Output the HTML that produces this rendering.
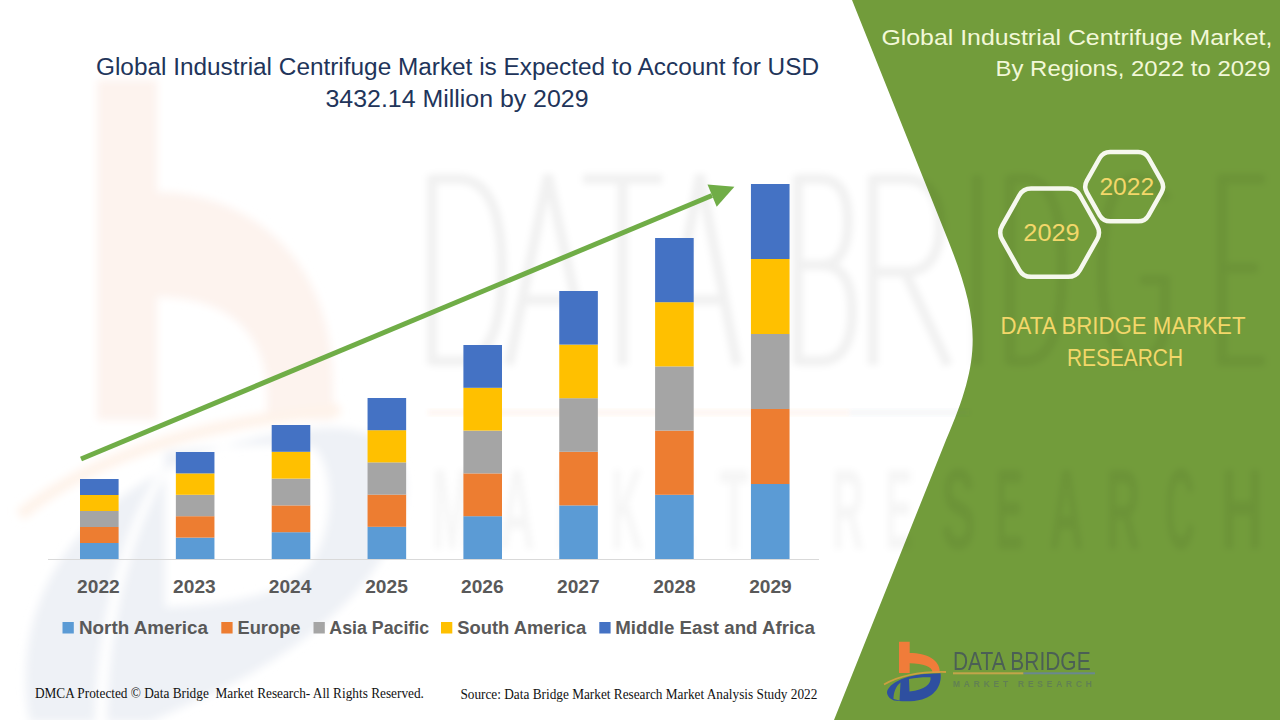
<!DOCTYPE html>
<html><head><meta charset="utf-8">
<style>
html,body{margin:0;padding:0;background:#fff;}
body{width:1280px;height:720px;overflow:hidden;}
svg{display:block;}
text{font-family:"Liberation Sans",sans-serif;}
.serif{font-family:"Liberation Serif",serif;}
</style></head>
<body>
<svg width="1280" height="720" viewBox="0 0 1280 720">
<rect width="1280" height="720" fill="#ffffff"/>


<!-- watermark -->
<defs>
<filter id="bl2" x="-10%" y="-10%" width="120%" height="120%"><feGaussianBlur stdDeviation="2"/></filter>
<filter id="bl3" x="-10%" y="-10%" width="120%" height="120%"><feGaussianBlur stdDeviation="3"/></filter>
<filter id="bl4" x="-10%" y="-10%" width="120%" height="120%"><feGaussianBlur stdDeviation="4"/></filter>
</defs>
<g filter="url(#bl4)">
<path d="M97,80 H157 V192 C240,192 333,250 333,385 V420 H267 V395 C267,335 230,297 157,297 V420 H97 Z" fill="#FDF3EE"/>
<path d="M20,515 C100,450 220,420 340,410" stroke="#FEF3EA" stroke-width="12" fill="none"/>
<path d="M26,690 C20,560 120,455 300,430 C390,418 420,460 400,520 C380,580 320,640 220,690 L150,722 L30,722 C28,712 26,700 26,690 Z M165,452 C220,446 290,442 315,448 C335,470 335,530 310,565 C285,595 230,605 165,607 Z M95,722 C96,640 115,540 160,470 L166,474 C125,545 108,640 107,722 Z" fill="#EEF1F6" fill-rule="evenodd"/>
</g>

<!-- green panel -->
<path d="M852,0 L948,240 C981,323 981.5,358 946,440 L834,720 L1280,720 L1280,0 Z" fill="#729C3B"/>

<g filter="url(#bl3)" fill="none" stroke="#000" stroke-opacity="0.055" stroke-width="10">
<path d="M432,175 V365 M432,179 H458 C490,179 502,215 502,270 C502,325 490,361 458,361 H432"/>
<path d="M509,365 L548,175 L590,365 M522,300 H576"/>
<path d="M583,179 H662 M622.5,179 V365"/>
<path d="M664,365 L700,175 L737,365 M677,300 H724"/>
<path d="M798,175 V365 M798,179 H820 C840,179 848,195 848,222 C848,250 838,265 820,265 H798 M820,265 C845,265 852,285 852,312 C852,345 840,361 820,361 H798"/>
<path d="M873,175 V365 M873,179 H905 C930,179 940,200 940,225 C940,255 928,272 905,272 H873 M905,272 L948,365"/>
<path d="M977,175 V365"/>
<path d="M1010,175 V365 M1010,179 H1025 C1052,179 1062,215 1062,270 C1062,325 1052,361 1025,361 H1010"/>
<path d="M1168,200 C1155,182 1145,179 1135,179 C1112,179 1102,220 1102,270 C1102,325 1115,361 1135,361 C1150,361 1165,350 1165,320 V280 H1140"/>
<path d="M1265,179 H1222 V361 H1265 M1222,268 H1258"/>
</g>
<g filter="url(#bl2)">
<rect x="428" y="409.5" width="421" height="6" fill="#F07A3C" opacity="0.07"/>
<rect x="849" y="409.5" width="120" height="6" fill="#445577" opacity="0.05"/>
</g>
<g filter="url(#bl3)" fill="#000" fill-opacity="0.035" font-family="Liberation Sans" font-weight="bold" font-size="115" text-anchor="middle">
<text x="452" y="549" textLength="40" lengthAdjust="spacingAndGlyphs">M</text>
<text x="517" y="549" textLength="36" lengthAdjust="spacingAndGlyphs">A</text>
<text x="572" y="549" textLength="32" lengthAdjust="spacingAndGlyphs">R</text>
<text x="627" y="549" textLength="32" lengthAdjust="spacingAndGlyphs">K</text>
<text x="680" y="549" textLength="28" lengthAdjust="spacingAndGlyphs">E</text>
<text x="734" y="549" textLength="30" lengthAdjust="spacingAndGlyphs">T</text>
<text x="848" y="549" textLength="32" lengthAdjust="spacingAndGlyphs">R</text>
<text x="899" y="549" textLength="28" lengthAdjust="spacingAndGlyphs">E</text>
</g>
<g filter="url(#bl3)" fill="#000" fill-opacity="0.055" font-family="Liberation Sans" font-weight="bold" font-size="115" text-anchor="middle">
<text x="958.5" y="549" textLength="34" lengthAdjust="spacingAndGlyphs">S</text>
<text x="1009.5" y="549" textLength="28" lengthAdjust="spacingAndGlyphs">E</text>
<text x="1066.5" y="549" textLength="34" lengthAdjust="spacingAndGlyphs">A</text>
<text x="1123" y="549" textLength="34" lengthAdjust="spacingAndGlyphs">R</text>
<text x="1180" y="549" textLength="30" lengthAdjust="spacingAndGlyphs">C</text>
<text x="1242" y="549" textLength="42" lengthAdjust="spacingAndGlyphs">H</text>
</g>

<!-- title -->
<g fill="#21345A" font-size="23">
<text x="96" y="74.5" textLength="723" lengthAdjust="spacingAndGlyphs">Global Industrial Centrifuge Market is Expected to Account for USD</text>
<text x="325.5" y="106.5" textLength="263" lengthAdjust="spacingAndGlyphs">3432.14 Million by 2029</text>
</g>

<!-- axis -->
<rect x="48" y="559" width="771" height="1" fill="#D9D9D9"/>

<!-- bars -->
<g id="bars">
<rect x="80.00" y="543.00" width="38.6" height="16.00" fill="#5B9BD5"/>
<rect x="80.00" y="527.00" width="38.6" height="16.00" fill="#ED7D31"/>
<rect x="80.00" y="511.00" width="38.6" height="16.00" fill="#A5A5A5"/>
<rect x="80.00" y="495.00" width="38.6" height="16.00" fill="#FFC000"/>
<rect x="80.00" y="479.00" width="38.6" height="16.00" fill="#4472C4"/>
<rect x="175.85" y="537.60" width="38.6" height="21.40" fill="#5B9BD5"/>
<rect x="175.85" y="516.20" width="38.6" height="21.40" fill="#ED7D31"/>
<rect x="175.85" y="494.80" width="38.6" height="21.40" fill="#A5A5A5"/>
<rect x="175.85" y="473.40" width="38.6" height="21.40" fill="#FFC000"/>
<rect x="175.85" y="452.00" width="38.6" height="21.40" fill="#4472C4"/>
<rect x="271.70" y="532.20" width="38.6" height="26.80" fill="#5B9BD5"/>
<rect x="271.70" y="505.40" width="38.6" height="26.80" fill="#ED7D31"/>
<rect x="271.70" y="478.60" width="38.6" height="26.80" fill="#A5A5A5"/>
<rect x="271.70" y="451.80" width="38.6" height="26.80" fill="#FFC000"/>
<rect x="271.70" y="425.00" width="38.6" height="26.80" fill="#4472C4"/>
<rect x="367.55" y="526.80" width="38.6" height="32.20" fill="#5B9BD5"/>
<rect x="367.55" y="494.60" width="38.6" height="32.20" fill="#ED7D31"/>
<rect x="367.55" y="462.40" width="38.6" height="32.20" fill="#A5A5A5"/>
<rect x="367.55" y="430.20" width="38.6" height="32.20" fill="#FFC000"/>
<rect x="367.55" y="398.00" width="38.6" height="32.20" fill="#4472C4"/>
<rect x="463.40" y="516.20" width="38.6" height="42.80" fill="#5B9BD5"/>
<rect x="463.40" y="473.40" width="38.6" height="42.80" fill="#ED7D31"/>
<rect x="463.40" y="430.60" width="38.6" height="42.80" fill="#A5A5A5"/>
<rect x="463.40" y="387.80" width="38.6" height="42.80" fill="#FFC000"/>
<rect x="463.40" y="345.00" width="38.6" height="42.80" fill="#4472C4"/>
<rect x="559.25" y="505.40" width="38.6" height="53.60" fill="#5B9BD5"/>
<rect x="559.25" y="451.80" width="38.6" height="53.60" fill="#ED7D31"/>
<rect x="559.25" y="398.20" width="38.6" height="53.60" fill="#A5A5A5"/>
<rect x="559.25" y="344.60" width="38.6" height="53.60" fill="#FFC000"/>
<rect x="559.25" y="291.00" width="38.6" height="53.60" fill="#4472C4"/>
<rect x="655.10" y="494.80" width="38.6" height="64.20" fill="#5B9BD5"/>
<rect x="655.10" y="430.60" width="38.6" height="64.20" fill="#ED7D31"/>
<rect x="655.10" y="366.40" width="38.6" height="64.20" fill="#A5A5A5"/>
<rect x="655.10" y="302.20" width="38.6" height="64.20" fill="#FFC000"/>
<rect x="655.10" y="238.00" width="38.6" height="64.20" fill="#4472C4"/>
<rect x="750.95" y="484.00" width="38.6" height="75.00" fill="#5B9BD5"/>
<rect x="750.95" y="409.00" width="38.6" height="75.00" fill="#ED7D31"/>
<rect x="750.95" y="334.00" width="38.6" height="75.00" fill="#A5A5A5"/>
<rect x="750.95" y="259.00" width="38.6" height="75.00" fill="#FFC000"/>
<rect x="750.95" y="184.00" width="38.6" height="75.00" fill="#4472C4"/>
</g>

<!-- arrow -->
<line x1="81" y1="459" x2="712" y2="195.5" stroke="#70AD47" stroke-width="5"/>
<polygon points="707.5,184.6 734.4,186.7 716.7,206.8" fill="#70AD47"/>

<!-- x labels -->
<g fill="#595959" font-size="17.5" font-weight="bold" text-anchor="middle">
<text x="98.4" y="592.5" textLength="42.6" lengthAdjust="spacingAndGlyphs">2022</text>
<text x="194.4" y="592.5" textLength="42.6" lengthAdjust="spacingAndGlyphs">2023</text>
<text x="290.1" y="592.5" textLength="42.6" lengthAdjust="spacingAndGlyphs">2024</text>
<text x="386.5" y="592.5" textLength="42.6" lengthAdjust="spacingAndGlyphs">2025</text>
<text x="482.3" y="592.5" textLength="42.6" lengthAdjust="spacingAndGlyphs">2026</text>
<text x="578.3" y="592.5" textLength="42.6" lengthAdjust="spacingAndGlyphs">2027</text>
<text x="674.45" y="592.5" textLength="42.6" lengthAdjust="spacingAndGlyphs">2028</text>
<text x="770.45" y="592.5" textLength="42.6" lengthAdjust="spacingAndGlyphs">2029</text>
</g>

<!-- legend -->
<g font-size="17.5" font-weight="bold" fill="#595959">
<rect x="62.5" y="622" width="11.3" height="11.5" fill="#5B9BD5"/>
<text x="79" y="633.8" textLength="129" lengthAdjust="spacingAndGlyphs">North America</text>
<rect x="221.3" y="622" width="11.3" height="11.5" fill="#ED7D31"/>
<text x="237.5" y="633.8" textLength="63" lengthAdjust="spacingAndGlyphs">Europe</text>
<rect x="313.5" y="622" width="11.3" height="11.5" fill="#A5A5A5"/>
<text x="329.3" y="633.8" textLength="99.8" lengthAdjust="spacingAndGlyphs">Asia Pacific</text>
<rect x="441" y="622" width="11.3" height="11.5" fill="#FFC000"/>
<text x="457.3" y="633.8" textLength="129" lengthAdjust="spacingAndGlyphs">South America</text>
<rect x="599.3" y="622" width="11.3" height="11.5" fill="#4472C4"/>
<text x="615.3" y="633.8" textLength="199.6" lengthAdjust="spacingAndGlyphs">Middle East and Africa</text>
</g>

<!-- footer -->
<g class="serif" fill="#111" font-size="14">
<text class="serif" style="white-space:pre" x="34.9" y="698.1" textLength="389" lengthAdjust="spacingAndGlyphs">DMCA Protected © Data Bridge  Market Research- All Rights Reserved.</text>
<text class="serif" x="460.4" y="698.8" textLength="357" lengthAdjust="spacingAndGlyphs">Source: Data Bridge Market Research Market Analysis Study 2022</text>
</g>

<!-- right panel title -->
<g fill="#F2F8D8" font-size="22.5" text-anchor="end">
<text x="1272.4" y="44.5" textLength="391" lengthAdjust="spacingAndGlyphs">Global Industrial Centrifuge Market,</text>
<text x="1270.6" y="75.9" textLength="275" lengthAdjust="spacingAndGlyphs">By Regions, 2022 to 2029</text>
</g>

<!-- hexagons -->
<g fill="none" stroke="#F6F8EE" stroke-width="4.5">
<path d="M1002.2,239.6 Q998.2,232.7 1002.2,225.7 L1019.2,195.5 Q1023.1,188.6 1031.1,188.6 L1068.1,188.6 Q1076.1,188.6 1080.0,195.5 L1097.0,225.7 Q1101.0,232.7 1097.0,239.6 L1080.0,269.8 Q1076.1,276.8 1068.1,276.8 L1031.1,276.8 Q1023.1,276.8 1019.2,269.8 Z"/>
<path d="M1086.9,192.7 Q1083.5,186.7 1086.9,180.6 L1099.7,158.0 Q1103.2,151.9 1110.2,151.9 L1138.2,151.9 Q1145.2,151.9 1148.6,158.0 L1161.4,180.6 Q1164.8,186.7 1161.4,192.7 L1148.6,215.3 Q1145.2,221.3 1138.2,221.3 L1110.2,221.3 Q1103.2,221.3 1099.7,215.3 Z"/>
</g>
<g fill="#F3D76A" font-size="23.5" text-anchor="middle">
<text x="1051.5" y="240.7" textLength="56.4" lengthAdjust="spacingAndGlyphs">2029</text>
<text x="1126.8" y="194.8" textLength="54.8" lengthAdjust="spacingAndGlyphs">2022</text>
</g>

<!-- DBMR text -->
<g fill="#F3D76A" font-size="23" text-anchor="middle">
<text x="1123" y="334.1" textLength="245" lengthAdjust="spacingAndGlyphs">DATA BRIDGE MARKET</text>
<text x="1125" y="366.2" textLength="116" lengthAdjust="spacingAndGlyphs">RESEARCH</text>
</g>

<!-- logo -->
<g id="logo">
<path d="M899,641.8 H909.7 V673 H899 Z M909.7,653 C927,653 939.8,660 939.8,672 V673 H932.5 V672 C932.5,667 923,663.2 909.7,663.2 Z" fill="#F07C3A"/>
<path d="M887,692 C889,683 905,675.5 925,674 L940.5,673.2 C942,683 937,695 922,699.5 C915,701.5 905,701.5 899,701 L894,700.5 C890,699 887,696 887,692 Z M909,679 C917,677.2 926,677 930.5,677.3 C931.5,684 925,690 909.5,691.5 Z M893.5,699 C893.5,692 896,686 900.5,682.5 L899.5,700.5 Z" fill="#2E4FA0" fill-rule="evenodd"/>
<path d="M884,684.5 C898,676.5 920,671.5 946,672" stroke="#D6A040" stroke-width="1.8" fill="none" opacity="0.9"/>
<text x="953" y="669.5" font-size="26" fill="#45555A" textLength="137.6" lengthAdjust="spacingAndGlyphs" opacity="0.85">DATA BRIDGE</text>
<rect x="953" y="672.3" width="70.5" height="2" fill="#C2A54A"/>
<rect x="1023.5" y="672.3" width="71.5" height="2" fill="#6A8890"/>
<text x="953" y="686.5" font-size="8.5" font-weight="bold" fill="#566A66" textLength="139" lengthAdjust="spacing" opacity="0.55">MARKET RESEARCH</text>
</g>
</svg>
</body></html>
